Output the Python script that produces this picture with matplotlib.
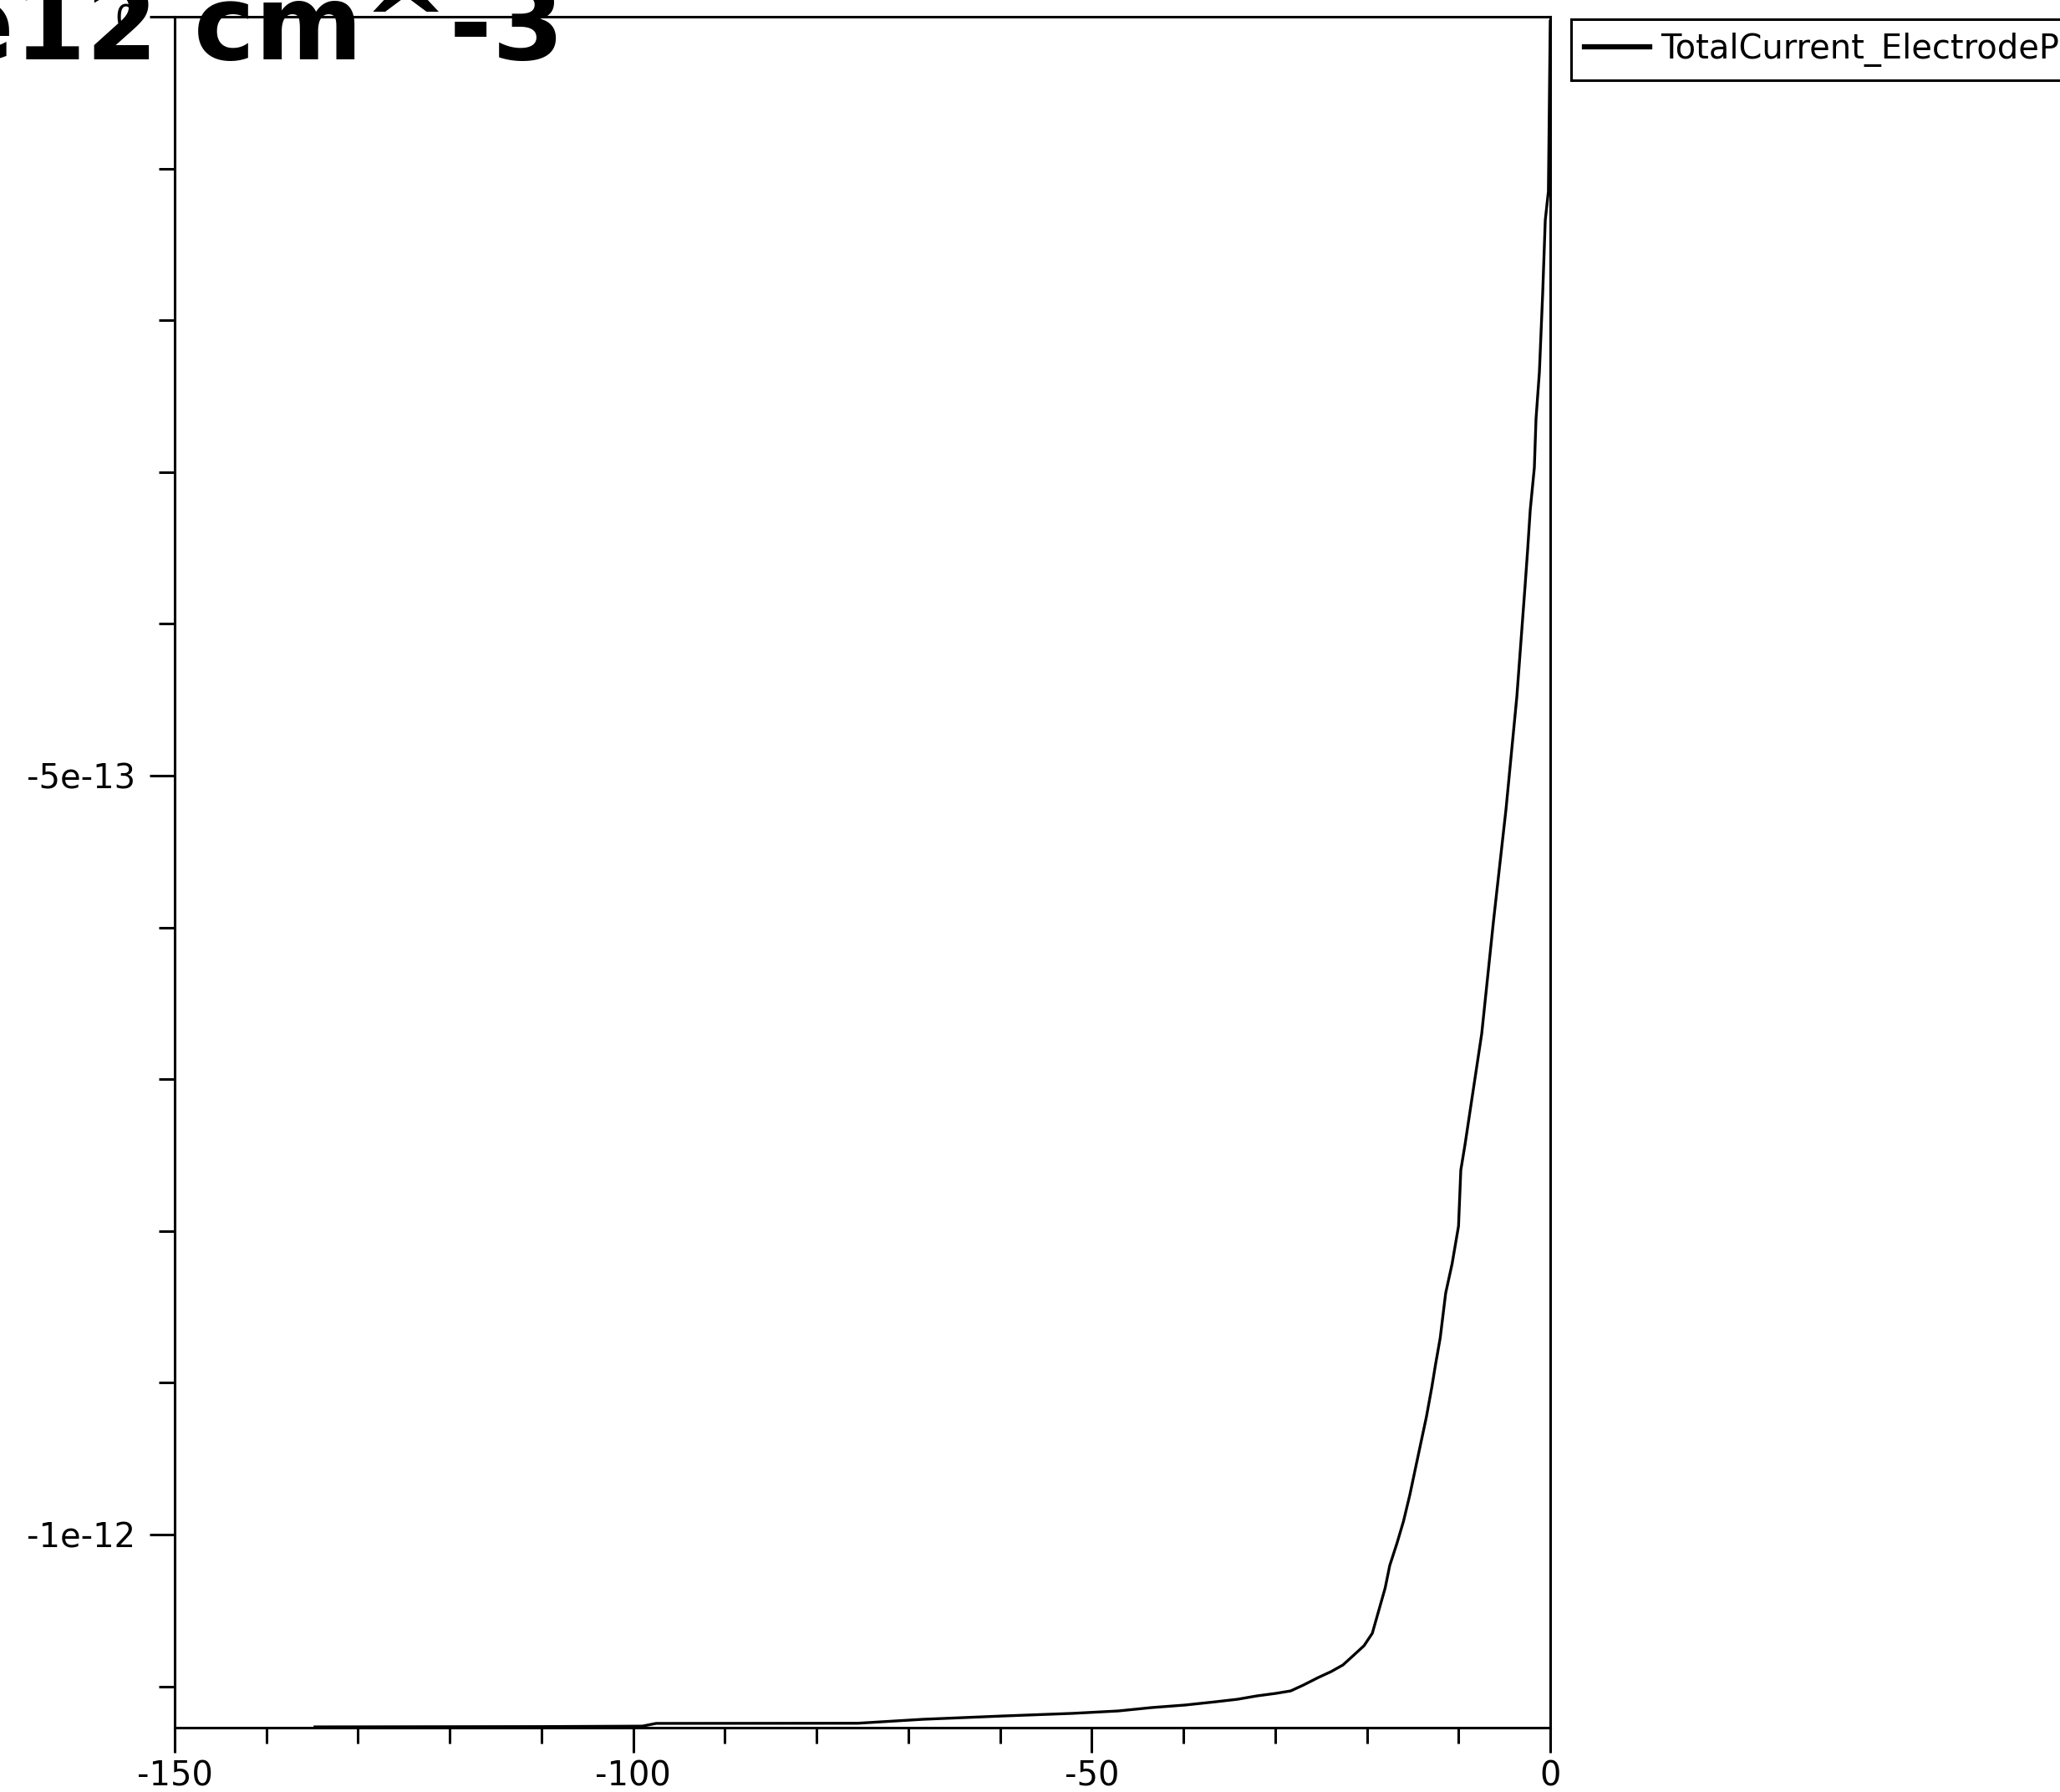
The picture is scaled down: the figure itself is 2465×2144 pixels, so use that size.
import numpy as np
import matplotlib
matplotlib.use("Agg")
import matplotlib.pyplot as plt
from matplotlib.ticker import MultipleLocator, FixedLocator, FixedFormatter

plt.rcParams['axes.unicode_minus'] = False

# 데이터
voltage = [-134.7, -110.0, -99.0, -97.5, -75.5, -68.4, -59.6, -52.1, -47.1,
           -43.5, -39.8, -36.4, -34.1, -32.0, -29.9, -28.3, -26.9, -25.3,
           -23.9, -22.6, -21.4, -20.3, -19.4, -18.7, -18.0, -17.5, -16.7,
           -16.0, -15.3, -14.8, -14.1, -13.5, -12.9, -12.5, -12.0, -11.4,
           -10.7, -10.0, -9.75, -9.29, -7.47, -6.19, -4.82, -3.64, -2.73,
           -2.46, -2.18, -1.73, -1.55, -1.18, -0.82, -0.54, -0.2, 0.0]
current_e12 = [-1.1267, -1.1265, -1.1262, -1.1244, -1.1243, -1.1217, -1.1195,
               -1.1178, -1.1162, -1.1140, -1.1123, -1.1101, -1.1085, -1.1063,
               -1.1046, -1.1030, -1.0991, -1.0942, -1.0903, -1.0859, -1.0793,
               -1.0732, -1.0650, -1.0501, -1.0352, -1.0204, -1.0055, -0.9912,
               -0.9736, -0.9593, -0.9394, -0.9224, -0.9025, -0.8877, -0.8706,
               -0.8409, -0.8216, -0.7968, -0.7599, -0.7430, -0.6700, -0.5960,
               -0.5220, -0.4480, -0.3740, -0.3510, -0.3250, -0.2970, -0.2650,
               -0.2340, -0.1820, -0.1340, -0.1150, -0.0030]
current = np.array(current_e12) * 1e-12

series_label = "TotalCurrent_ElectrodeP"
title_text = "1e12 cm^-3"
x_major = [-150, -100, -50, 0]
y_major = [-1e-12, -5e-13, 0]
y_labels = ["-1e-12", "-5e-13", "0"]

W, H = 2465, 2144
fig = plt.figure(figsize=(W / 100, H / 100), dpi=100)
ax = fig.add_axes([209 / W, 1 - 2067 / H, (1855 - 209) / W, (2067 - 20) / H])

ax.plot(voltage, current, color="black", lw=2.4, label=series_label)

ax.set_xlim(-150, 0)
ax.set_ylim(-1.1272e-12, 0)

ax.xaxis.set_major_locator(FixedLocator(x_major))
ax.xaxis.set_minor_locator(MultipleLocator(10))
ax.yaxis.set_major_locator(FixedLocator(y_major))
ax.yaxis.set_major_formatter(FixedFormatter(y_labels))
ax.yaxis.set_minor_locator(MultipleLocator(1e-13))

for s in ax.spines.values():
    s.set_linewidth(2.2)
    s.set_color("black")

ax.tick_params(which="both", direction="out", width=2.2, colors="black",
               labelsize=28.8, top=False, right=False)
ax.tick_params(which="major", length=21.5)
ax.tick_params(which="minor", length=13.5)
ax.tick_params(axis="x", which="major", pad=6)
ax.tick_params(axis="y", which="major", pad=12)

leg = ax.legend(loc="upper left", bbox_to_anchor=(1880 / W, 1 - 23 / H),
                bbox_transform=fig.transFigure, borderaxespad=0,
                fontsize=28.8, fancybox=False, framealpha=1,
                edgecolor="black", handlelength=1.95, handletextpad=0.33,
                borderpad=0.4)
leg.get_frame().set_linewidth(2.2)
for ln in leg.get_lines():
    ln.set_linewidth(4.5)

# 잘린 제목 (왼쪽 위)
fig.text(675 / W, 1 - 71 / H, title_text, ha="right", va="baseline",
         fontsize=89, fontweight="bold", family="DejaVu Sans", zorder=5)

fig.savefig("out.png", dpi=100)
